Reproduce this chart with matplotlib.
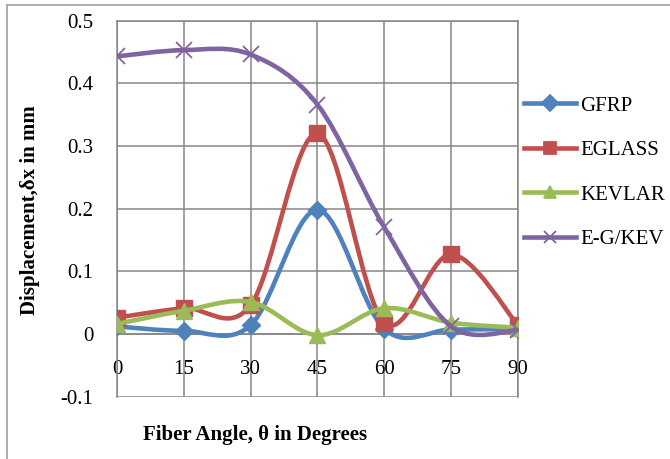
import matplotlib
matplotlib.use('Agg')
import matplotlib.pyplot as plt
from matplotlib.path import Path
from matplotlib.patches import PathPatch
from matplotlib.lines import Line2D

angles = [0, 15, 30, 45, 60, 75, 90]
gfrp = [0.012, 0.005, 0.014, 0.198, 0.008, 0.007, 0.008]
eglass = [0.026, 0.041, 0.046, 0.320, 0.018, 0.127, 0.014]
kevlar = [0.016, 0.037, 0.051, -0.002, 0.041, 0.018, 0.010]
egkev = [0.443, 0.453, 0.446, 0.366, 0.170, 0.012, 0.006]

names = ['GFRP', 'EGLASS', 'KEVLAR', 'E-G/KEV']
colors = ['#4F81BD', '#C0504D', '#9BBB59', '#8064A2']
markers = ['D', 's', '^', 'x']
msizes = [9, 11, 11, 11]

plt.rcParams['font.family'] = ['Liberation Serif', 'DejaVu Serif']


def smooth_path(xs, ys):
    # bezier curve like excel "smoothed line" (catmull-rom control points)
    pts = list(zip(xs, ys))
    n = len(pts)
    verts = [pts[0]]
    codes = [Path.MOVETO]
    for i in range(n - 1):
        p0 = pts[i - 1] if i > 0 else pts[i]
        p1 = pts[i]
        p2 = pts[i + 1]
        p3 = pts[i + 2] if i + 2 < n else pts[i + 1]
        c1 = (p1[0] + (p2[0] - p0[0]) / 6, p1[1] + (p2[1] - p0[1]) / 6)
        c2 = (p2[0] - (p3[0] - p1[0]) / 6, p2[1] - (p3[1] - p1[1]) / 6)
        verts += [c1, c2, p2]
        codes += [Path.CURVE4] * 3
    return Path(verts, codes)


fig = plt.figure(figsize=(6.7, 4.59), dpi=100)
ax = fig.add_axes([0.1746, 0.136, 0.5985, 0.819])

series = [gfrp, eglass, kevlar, egkev]
handles = []
for k, vals in enumerate(series):
    patch = PathPatch(smooth_path(angles, vals), facecolor='none',
                      edgecolor=colors[k], lw=3.3, zorder=3 + k)
    ax.add_patch(patch)
    ax.plot(angles, vals, linestyle='none', marker=markers[k], ms=msizes[k],
            color=colors[k], mec=colors[k], mew=1.3 if markers[k] == 'x' else 1,
            zorder=3 + k)
    handles.append(Line2D([], [], color=colors[k], lw=3.3, marker=markers[k],
                          ms=msizes[k] * 0.85, mew=1.3))

ax.set_xlim(0, 90)
ax.set_ylim(-0.1, 0.5)
ax.set_xticks(angles)
ax.set_yticks([-0.1, 0, 0.1, 0.2, 0.3, 0.4, 0.5])
ax.set_yticklabels(['-0.1', '0', '0.1', '0.2', '0.3', '0.4', '0.5'])
ax.grid(True, color='#868686', lw=1.1, zorder=0)
for s in ax.spines.values():
    s.set_color('#868686')
    s.set_linewidth(1.1)
ax.spines['bottom'].set_position(('data', 0))
ax.tick_params(axis='x', length=0, pad=19, labelsize=15)
ax.tick_params(axis='y', length=0, pad=17, labelsize=15)
ax.set_axisbelow(True)

fig.text(30 / 670, 1 - 210 / 459, 'Displacement,\u03b4x in mm', rotation=90,
         ha='center', va='center', fontsize=15, fontweight='bold')
fig.text(255 / 670, 1 - 435 / 459, 'Fiber Angle, \u03b8 in Degrees',
         ha='center', va='center', fontsize=15, fontweight='bold')

fig.legend(handles, names, loc='upper left', bbox_to_anchor=(0.782, 0.791),
           frameon=False, fontsize=15, handlelength=2.5, handletextpad=0.2,
           labelspacing=1.2, borderpad=0, borderaxespad=0)

# outer chart frame (only top and left edges visible)
fig.add_artist(Line2D([7 / 670, 7 / 670], [0, 1 - 5 / 459], color='#A0A0A0', lw=1.2))
fig.add_artist(Line2D([7 / 670, 1], [1 - 5 / 459, 1 - 5 / 459], color='#A0A0A0', lw=1.2))

fig.savefig('out.png', dpi=100)
